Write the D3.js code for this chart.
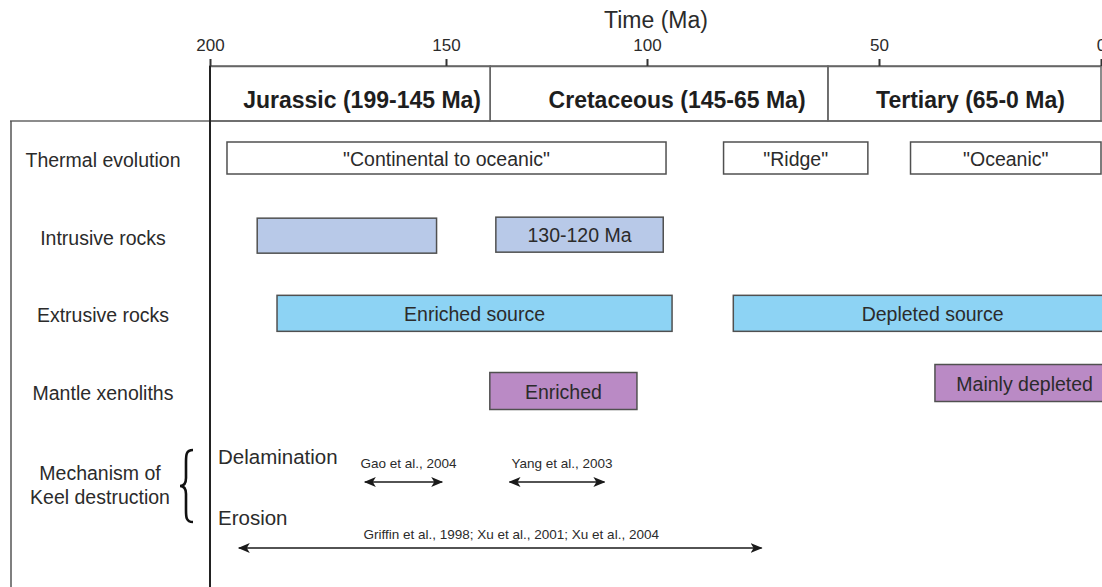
<!DOCTYPE html>
<html>
<head>
<meta charset="utf-8">
<script src="https://cdn.jsdelivr.net/npm/d3@7"></script>
<style>
  html, body { margin: 0; padding: 0; background: #fff; }
  svg { display: block; font-family: "Liberation Sans", Arial, sans-serif; }
</style>
</head>
<body>
<svg id="chart" width="1102" height="587"></svg>
<script>
// ---------- data ----------
const tickValues = [200, 150, 100, 50, 0];
const axisTitle = "Time (Ma)";

const periodNames = ["Jurassic (199-145 Ma)", "Cretaceous (145-65 Ma)", "Tertiary (65-0 Ma)"];
const periodStart = [200, 139, 61];
const periodEnd   = [139, 61, 0];

const rows = ["Thermal evolution", "Intrusive rocks", "Extrusive rocks", "Mantle xenoliths"];

const barRow   = [0, 0, 0, 1, 1, 2, 2, 3, 3];
const barLabel = ["\"Continental to oceanic\"", "\"Ridge\"", "\"Oceanic\"", "", "130-120 Ma",
                  "Enriched source", "Depleted source", "Enriched", "Mainly depleted"];
const barStart = [196.4, 83.5, 42.9, 190.0, 137.6, 185.8, 81.4, 139.1, 37.4];
const barEnd   = [95.9, 52.4, 0, 152.0, 96.5, 94.6, -7, 102.5, -3];

const mechTitle = ["Mechanism of", "Keel destruction"];
const mechanisms = ["Delamination", "Erosion"];
const refMech  = [0, 0, 1];
const refLabel = ["Gao et al., 2004", "Yang et al., 2003", "Griffin et al., 1998; Xu et al., 2001; Xu et al., 2004"];
const refStart = [167.2, 134.2, 193.9];
const refEnd   = [150.8, 110.6, 75.3];

// ---------- layout / style ----------
const W = 1102, H = 587;
const svg = d3.select("#chart");

const x = d3.scaleLinear()
  .domain(tickValues)
  .range([210, 446, 647, 879, 1101]);

const rowY = d3.scalePoint().domain(rows).range([158, 391]);
const rowFill = ["#ffffff", "#b8c9e8", "#8dd3f4", "#ba8ac5"];
const rowH = [32, 35, 36, 37];
const nudge = {"Mainly depleted": -8, "130-120 Ma": -1};
const headDx = [12, 18, 6];

const axisY = 66, headBottom = 121;
const textColor = "#2b2b2b";

// title
svg.append("text")
  .attr("x", 656).attr("y", 28)
  .attr("text-anchor", "middle")
  .attr("font-size", 23)
  .attr("fill", textColor)
  .text(axisTitle);

// header period boxes
const periods = periodNames.map((n, i) => ({name: n, s: periodStart[i], e: periodEnd[i], i}));
const hg = svg.append("g");
hg.selectAll("rect").data(periods).join("rect")
  .attr("x", d => x(d.s))
  .attr("width", d => Math.min(x(d.e), W + 2) - x(d.s))
  .attr("y", axisY).attr("height", headBottom - axisY)
  .attr("fill", "none").attr("stroke", "#666").attr("stroke-width", 1.5);
hg.selectAll("text").data(periods).join("text")
  .attr("x", d => (x(d.s) + x(d.e)) / 2 + headDx[d.i])
  .attr("y", 108)
  .attr("text-anchor", "middle")
  .attr("font-size", 23)
  .attr("font-weight", "bold")
  .attr("fill", "#1e1e1e")
  .text(d => d.name);

// axis
const axis = d3.axisTop(x).tickValues(tickValues).tickSize(7).tickSizeOuter(0).tickPadding(8)
  .tickFormat(d3.format("d"));
const ag = svg.append("g").attr("transform", `translate(0,${axisY})`).call(axis);
ag.select(".domain").attr("stroke", "#666").attr("stroke-width", 1.5);
ag.selectAll(".tick line").attr("stroke", "#333").attr("stroke-width", 2);
ag.selectAll(".tick text").attr("font-size", 17).attr("fill", textColor)
  .attr("font-family", "'Liberation Sans', Arial, sans-serif");

// frame lines
svg.append("line").attr("x1", 10).attr("x2", W).attr("y1", headBottom).attr("y2", headBottom)
  .attr("stroke", "#666").attr("stroke-width", 1.5);
svg.append("line").attr("x1", 11).attr("x2", 11).attr("y1", headBottom).attr("y2", H)
  .attr("stroke", "#555").attr("stroke-width", 1.5);
svg.append("line").attr("x1", x(200)).attr("x2", x(200)).attr("y1", axisY).attr("y2", H)
  .attr("stroke", "#222").attr("stroke-width", 2);

// row labels
svg.append("g").selectAll("text").data(rows).join("text")
  .attr("x", 103)
  .attr("y", d => rowY(d) + 9)
  .attr("text-anchor", "middle")
  .attr("font-size", 19.5)
  .attr("fill", textColor)
  .text(d => d);

// bars
const bars = barLabel.map((l, i) => ({label: l, row: barRow[i], s: barStart[i], e: barEnd[i]}));
const bg = svg.append("g");
bg.selectAll("rect").data(bars).join("rect")
  .attr("x", d => x(d.s))
  .attr("width", d => x(d.e) - x(d.s))
  .attr("y", d => rowY(rows[d.row]) - rowH[d.row] / 2 + (nudge[d.label] || 0))
  .attr("height", d => rowH[d.row])
  .attr("fill", d => rowFill[d.row])
  .attr("stroke", "#505050").attr("stroke-width", 1.5);
bg.selectAll("text").data(bars).join("text")
  .attr("x", d => (x(d.s) + x(d.e)) / 2)
  .attr("y", d => rowY(rows[d.row]) + 7.5 + (nudge[d.label] || 0))
  .attr("text-anchor", "middle")
  .attr("font-size", 19.5)
  .attr("fill", textColor)
  .text(d => d.label);

// mechanism block
const mechLabelY = [473, 497];
svg.append("g").selectAll("text").data(mechTitle).join("text")
  .attr("x", 100).attr("y", (d, i) => mechLabelY[i] + 7)
  .attr("text-anchor", "middle").attr("font-size", 19.5).attr("fill", textColor)
  .text(d => d);

svg.append("path")
  .attr("d", "M193,450 C186,450 186,455 186,462 L186,478 C186,484 184,486 180,486 C184,486 186,488 186,494 L186,510 C186,517 186,522 193,522")
  .attr("fill", "none").attr("stroke", "#111").attr("stroke-width", 2.6);

const mechTextY = [464, 525];
const refTextY = [468, 539];
const arrowY = [482, 548];

svg.append("g").selectAll("text").data(mechanisms).join("text")
  .attr("x", 218).attr("y", (d, i) => mechTextY[i])
  .attr("font-size", 20.5).attr("fill", textColor)
  .text(d => d);

const defs = svg.append("defs");
defs.append("marker")
  .attr("id", "ah").attr("viewBox", "0 0 12 10")
  .attr("refX", 11).attr("refY", 5)
  .attr("markerWidth", 12).attr("markerHeight", 10)
  .attr("markerUnits", "userSpaceOnUse")
  .attr("orient", "auto-start-reverse")
  .append("path").attr("d", "M0,0 L12,5 L0,10 L3,5 Z").attr("fill", "#1a1a1a");

const refs = refLabel.map((l, i) => ({label: l, m: refMech[i], s: refStart[i], e: refEnd[i]}));
const rg = svg.append("g");
rg.selectAll("line").data(refs).join("line")
  .attr("x1", d => x(d.s)).attr("x2", d => x(d.e))
  .attr("y1", d => arrowY[d.m]).attr("y2", d => arrowY[d.m])
  .attr("stroke", "#1a1a1a").attr("stroke-width", 1.6)
  .attr("marker-start", "url(#ah)").attr("marker-end", "url(#ah)");
rg.selectAll("text").data(refs).join("text")
  .attr("x", d => (x(d.s) + x(d.e)) / 2 + (d.m === 1 ? 11 : 5))
  .attr("y", d => refTextY[d.m])
  .attr("text-anchor", "middle")
  .attr("font-size", 13.5).attr("fill", textColor)
  .text(d => d.label);
</script>
</body>
</html>
